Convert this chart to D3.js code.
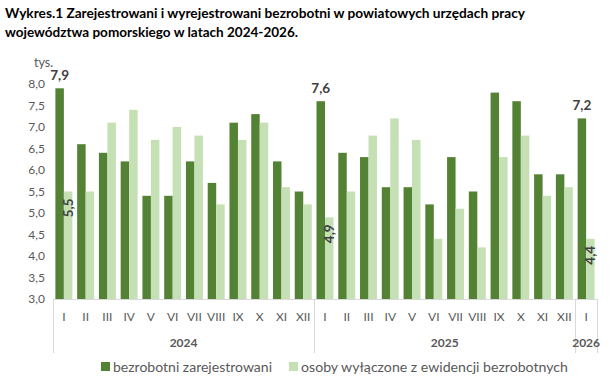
<!DOCTYPE html>
<html>
<head>
<meta charset="utf-8">
<script src="https://cdn.jsdelivr.net/npm/d3@7"></script>
<style>
  body { margin: 0; background: #fff; }
  svg { display: block; font-family: Lato, "Noto Sans", sans-serif; }
</style>
</head>
<body>
<svg id="chart" width="615" height="384"></svg>
<script>
const months = ["I", "II", "III", "IV", "V", "VI", "VII", "VIII", "IX", "X", "XI", "XII",
                "I", "II", "III", "IV", "V", "VI", "VII", "VIII", "IX", "X", "XI", "XII", "I"];
const years = [
  { label: "2024", from: 0, to: 11 },
  { label: "2025", from: 12, to: 23 },
  { label: "2026", from: 24, to: 24 }
];
const registered = [7.9, 6.6, 6.4, 6.2, 5.4, 5.4, 6.2, 5.7, 7.1, 7.3, 6.2, 5.5,
                    7.6, 6.4, 6.3, 5.6, 5.6, 5.2, 6.3, 5.5, 7.8, 7.6, 5.9, 5.9, 7.2];
const removed = [5.5, 5.5, 7.1, 7.4, 6.7, 7.0, 6.8, 5.2, 6.7, 7.1, 5.6, 5.2,
                 4.9, 5.5, 6.8, 7.2, 6.7, 4.4, 5.1, 4.2, 6.3, 6.8, 5.4, 5.6, 4.4];
const labelled = [0, 12, 24]; // etykiety tylko dla stycznia
const yTicks = d3.range(3, 8.01, 0.5);
const seriesNames = ["bezrobotni zarejestrowani", "osoby wyłączone z ewidencji bezrobotnych"];
const colors = ["#548235", "#C5E0B4"];

const svg = d3.select("#chart");
const fmt = v => d3.format(".1f")(v).replace(".", ",");

// tytuł
const title = svg.append("g").attr("font-weight", "bold").attr("font-size", 14).attr("fill", "#000");
title.append("text").attr("x", 5).attr("y", 18)
  .attr("textLength", 520).attr("lengthAdjust", "spacingAndGlyphs")
  .text("Wykres.1 Zarejestrowani i wyrejestrowani bezrobotni w powiatowych urzędach pracy");
title.append("text").attr("x", 5).attr("y", 37)
  .attr("textLength", 293).attr("lengthAdjust", "spacingAndGlyphs")
  .text("województwa pomorskiego w latach 2024-2026.");

const plotLeft = 53, plotRight = 597, plotTop = 84, plotBottom = 299;

const x = d3.scaleBand()
  .domain(d3.range(months.length))
  .range([plotLeft, plotRight])
  .paddingInner(0.22)
  .paddingOuter(0.11);

const x1 = d3.scaleBand()
  .domain([0, 1])
  .range([0, x.bandwidth()]);

const y = d3.scaleLinear()
  .domain([3, 8])
  .range([plotBottom, plotTop]);

// oś Y
svg.append("text").attr("x", 34).attr("y", 67)
  .attr("font-size", 12.5).attr("fill", "#595959").text("tys.");

svg.append("g").selectAll("text")
  .data(yTicks)
  .enter()
  .append("text")
  .attr("x", 45)
  .attr("y", d => y(d) + 4)
  .attr("text-anchor", "end")
  .attr("font-size", 12)
  .attr("fill", "#595959")
  .text(d => fmt(d));

// słupki
const groups = svg.append("g").selectAll("g")
  .data(months.map((m, i) => i))
  .enter()
  .append("g")
  .attr("transform", i => `translate(${x(i)},0)`);

[registered, removed].forEach((series, s) => {
  groups.append("rect")
    .attr("x", x1(s))
    .attr("y", i => y(series[i]))
    .attr("width", x1.bandwidth())
    .attr("height", i => plotBottom - y(series[i]))
    .attr("fill", colors[s]);
});

// etykiety danych
labelled.forEach(i => {
  svg.append("text")
    .attr("x", x(i) + x1(0) + x1.bandwidth() / 2)
    .attr("y", y(registered[i]) - 8)
    .attr("text-anchor", "middle")
    .attr("font-size", 13.5)
    .attr("font-weight", "bold")
    .attr("fill", "#404040")
    .text(fmt(registered[i]));

  const cx = x(i) + x1(1) + x1.bandwidth() / 2 + 5;
  const cy = y(removed[i]) + 7;
  svg.append("text")
    .attr("transform", `translate(${cx},${cy}) rotate(-90)`)
    .attr("text-anchor", "end")
    .attr("font-size", 13.5)
    .attr("font-weight", "bold")
    .attr("fill", "#404040")
    .text(fmt(removed[i]));
});

// oś X
const axis = svg.append("g").attr("stroke", "#D9D9D9").attr("stroke-width", 1);
axis.append("line")
  .attr("x1", plotLeft).attr("x2", plotRight)
  .attr("y1", plotBottom + 0.5).attr("y2", plotBottom + 0.5);

const sepX = [plotLeft].concat(years.map(yr => plotLeft + (yr.to + 1) * x.step()));
sepX.forEach(sx => {
  axis.append("line")
    .attr("x1", Math.round(sx) + 0.5).attr("x2", Math.round(sx) + 0.5)
    .attr("y1", plotBottom).attr("y2", 353);
});

svg.append("g").selectAll("text")
  .data(months)
  .enter()
  .append("text")
  .attr("x", (d, i) => x(i) + x.bandwidth() / 2)
  .attr("y", 321)
  .attr("text-anchor", "middle")
  .attr("font-size", 12)
  .attr("fill", "#595959")
  .text(d => d);

svg.append("g").selectAll("text")
  .data(years)
  .enter()
  .append("text")
  .attr("x", d => plotLeft + (d.from + d.to + 1) / 2 * x.step())
  .attr("y", 347)
  .attr("text-anchor", "middle")
  .attr("font-size", 12)
  .attr("font-weight", "bold")
  .attr("fill", "#595959")
  .text(d => d.label);

// legenda
const legendX = [101, 289];
const legendW = [159, 267];
const legend = svg.append("g").selectAll("g")
  .data(seriesNames)
  .enter()
  .append("g")
  .attr("transform", (d, i) => `translate(${legendX[i]},362)`);

legend.append("rect")
  .attr("width", 9).attr("height", 9)
  .attr("fill", (d, i) => colors[i]);

legend.append("text")
  .attr("x", 12).attr("y", 9.5)
  .attr("font-size", 13.5)
  .attr("fill", "#595959")
  .attr("textLength", (d, i) => legendW[i])
  .attr("lengthAdjust", "spacingAndGlyphs")
  .text(d => d);
</script>
</body>
</html>
